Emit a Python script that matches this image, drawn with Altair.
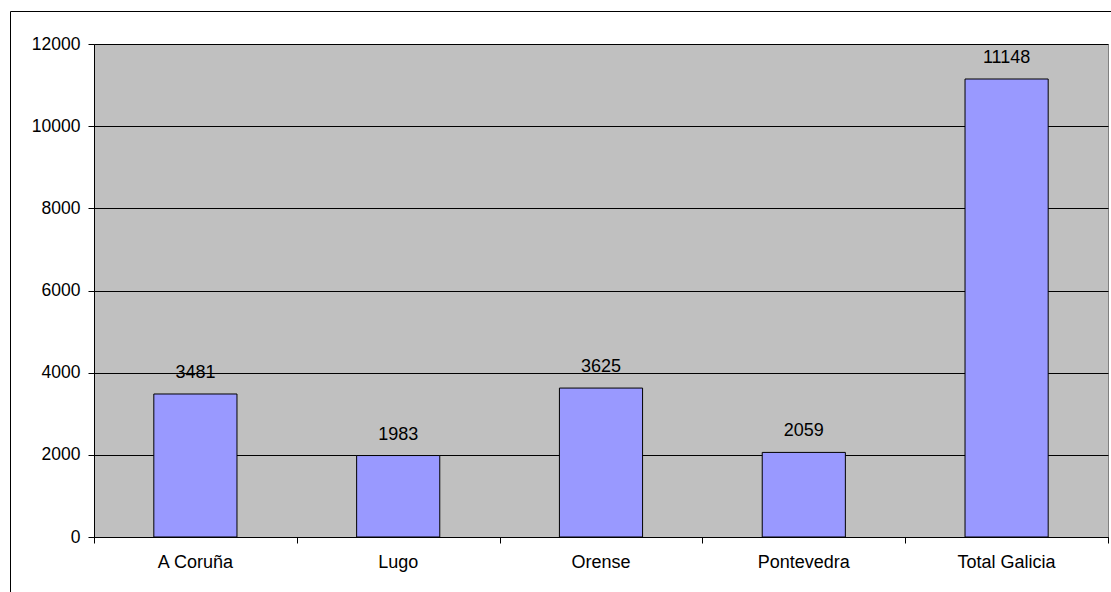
import altair as alt
import pandas as pd

categories = ["A Coruña", "Lugo", "Orense", "Pontevedra", "Total Galicia"]
values = [3481, 1983, 3625, 2059, 11148]
y_ticks = [0, 2000, 4000, 6000, 8000, 10000, 12000]
x_tick_positions = [0, 1, 2, 3, 4, 5]

df = pd.DataFrame({"provincia": categories, "valor": values})
ticks_df = pd.DataFrame({"pos": x_tick_positions})

FONT = "Liberation Sans"
FS = 18
W, H = 1014, 493

x_band = alt.X(
    "provincia:N", sort=categories,
    scale=alt.Scale(paddingInner=0.59, paddingOuter=0.295),
    axis=alt.Axis(title=None, orient="bottom", labelAngle=0, ticks=False, domain=False,
                  labelFont=FONT, labelFontSize=FS, labelColor="black", labelPadding=16,
                  grid=False),
)
y_enc = alt.Y(
    "valor:Q",
    scale=alt.Scale(domain=[0, 12000], nice=False),
    axis=alt.Axis(title=None, values=y_ticks, grid=True, gridColor="black", gridOpacity=1,
                  gridWidth=1, domainColor="black", domainWidth=1, tickColor="black",
                  tickSize=6, labelFont=FONT, labelFontSize=17.5, labelColor="black",
                  labelPadding=8, format="d"),
)

bars = alt.Chart(df).mark_bar(color="#9999FF", stroke="black", strokeWidth=1).encode(
    x=x_band, y=y_enc
)
labels = alt.Chart(df).mark_text(
    font=FONT, fontSize=FS, color="black", baseline="alphabetic", dy=-16
).encode(x=x_band, y=y_enc, text=alt.Text("valor:Q", format="d"))

main = alt.layer(bars, labels)

tick_layer = alt.Chart(ticks_df).mark_tick(opacity=0).encode(
    x=alt.X(
        "pos:Q",
        scale=alt.Scale(domain=[0, 5], nice=False, zero=False),
        axis=alt.Axis(title=None, orient="bottom", values=x_tick_positions, labels=False,
                      ticks=True, tickSize=6, tickColor="black", domain=True,
                      domainColor="black", domainWidth=1, grid=False),
    )
)

frame = alt.Chart(pd.DataFrame({"k": [0]})).mark_rect(
    fill="transparent", stroke="black", strokeWidth=1
).encode(
    x=alt.value(-83.5), x2=alt.value(W + 30), y=alt.value(-32.5), y2=alt.value(H + 90)
)

chart = alt.layer(main, tick_layer, frame).resolve_scale(x="independent").properties(
    width=W, height=H,
    autosize=alt.AutoSizeParams(type="none"),
    padding={"left": 94, "top": 44, "right": 3, "bottom": 55},
    background="white",
).configure_view(fill="#C0C0C0", stroke="#808080", strokeWidth=1)

chart.save("out.html", embed_options={"renderer": "svg", "actions": False})
